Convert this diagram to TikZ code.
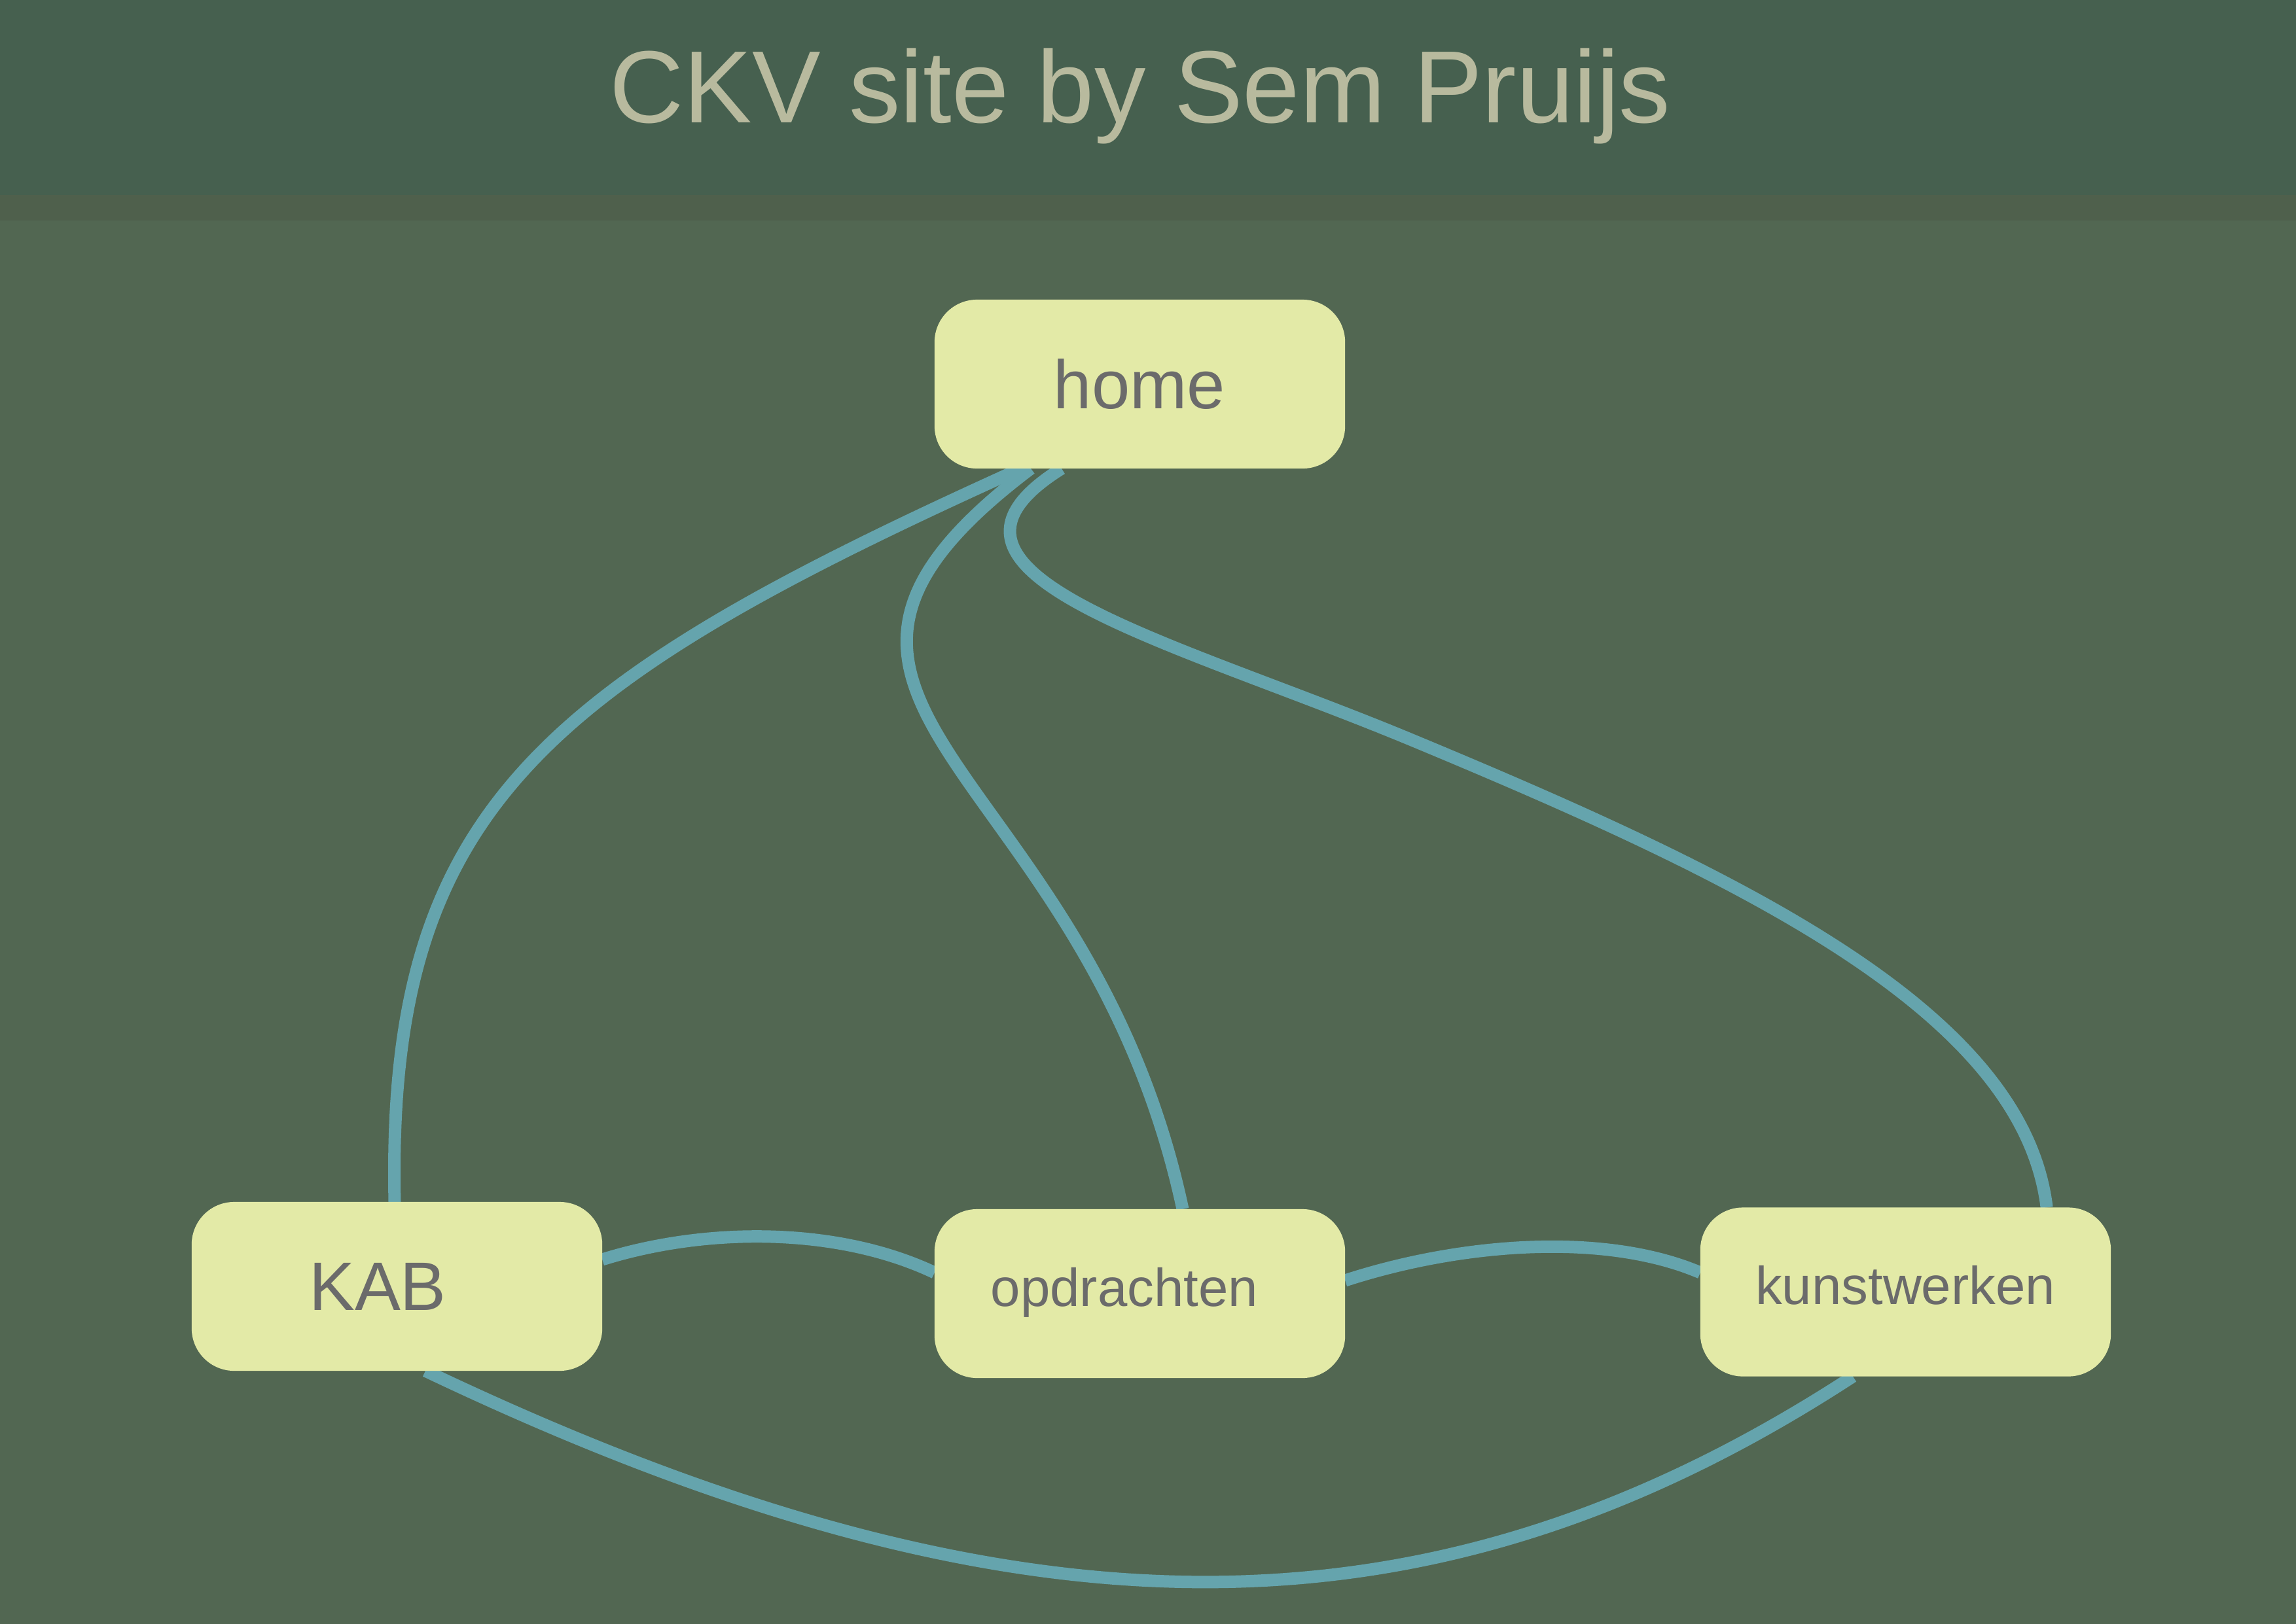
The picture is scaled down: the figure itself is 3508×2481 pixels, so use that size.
\documentclass[tikz,border=0pt]{standalone}
\usepackage{fontspec}
\setmainfont{Liberation Sans}
\usetikzlibrary{backgrounds}
\definecolor{hdrc}{RGB}{70,96,79}
\definecolor{stripc}{RGB}{79,96,76}
\definecolor{bgc}{RGB}{82,103,82}
\definecolor{boxc}{RGB}{227,234,167}
\definecolor{lblc}{RGB}{107,107,107}
\definecolor{ttlc}{RGB}{184,186,158}
\definecolor{edgec}{RGB}{101,164,173}
\begin{document}
\begin{tikzpicture}[x=0.01cm,y=-0.01cm,
  box/.style={draw=none, fill=boxc, rounded corners=0.65cm, minimum width=6.27cm, minimum height=2.58cm, inner sep=0pt, outer sep=0pt},
  lbl/.style={anchor=base, text=lblc, inner sep=0pt},
  big/.style={font=\fontsize{29.8pt}{34pt}\selectfont},
  small/.style={font=\fontsize{23.2pt}{28pt}\selectfont},
  conn/.style={draw=edgec, line width=5.4pt}]
\useasboundingbox (0,0) rectangle (3508,2481);

\node[anchor=base, text=ttlc, inner sep=0pt, font=\fontsize{44.6pt}{50pt}\selectfont] (title) at (1742,187) {CKV site by Sem Pruijs};

\node[box] (home) at (1741.5,587) {};
\node[box] (kab) at (606.5,1966) {};
\node[box] (opd) at (1741.5,1977) {};
\node[box] (kw) at (2911.5,1974.5) {};

\node[lbl, big] (homel) at (1741,624) {home};
\node[lbl, big] (kabl) at (577,2002) {KAB};
\node[lbl, small] (opdl) at (1718,1996) {opdrachten};
\node[lbl, small] (kwl) at (2911,1993) {kunstwerken};

\begin{scope}[on background layer]
  \fill[bgc] (-20,-20) rectangle (3528,2501);
  \fill[stripc] (-20,298) rectangle (3528,337);
  \fill[hdrc] (-20,-20) rectangle (3528,298);

  \draw[conn] ([xshift=-1.815cm]home.south) .. controls (830,1046) and (590,1235) .. ([xshift=-0.035cm]kab.north);
  \draw[conn] ([xshift=-1.665cm]home.south) .. controls (1095,1078) and (1660,1162) .. ([xshift=0.655cm]opd.north);
  \draw[conn] ([xshift=-1.195cm]home.south) .. controls (1367,875) and (1780,975) .. (2150,1128)
              .. controls (2658,1339) and (3091,1545) .. ([xshift=2.155cm]kw.north);
  \draw[conn] ([yshift=0.41cm]kab.east) .. controls (1080,1875) and (1280,1875) .. ([yshift=0.32cm]opd.west);
  \draw[conn] ([yshift=0.2cm]opd.east) .. controls (2230,1900) and (2450,1882) .. ([yshift=0.295cm]kw.west);
  \draw[conn] ([xshift=0.435cm]kab.south) .. controls (1550,2524) and (2186,2524) .. ([xshift=-0.805cm]kw.south);
\end{scope}
\end{tikzpicture}
\end{document}
